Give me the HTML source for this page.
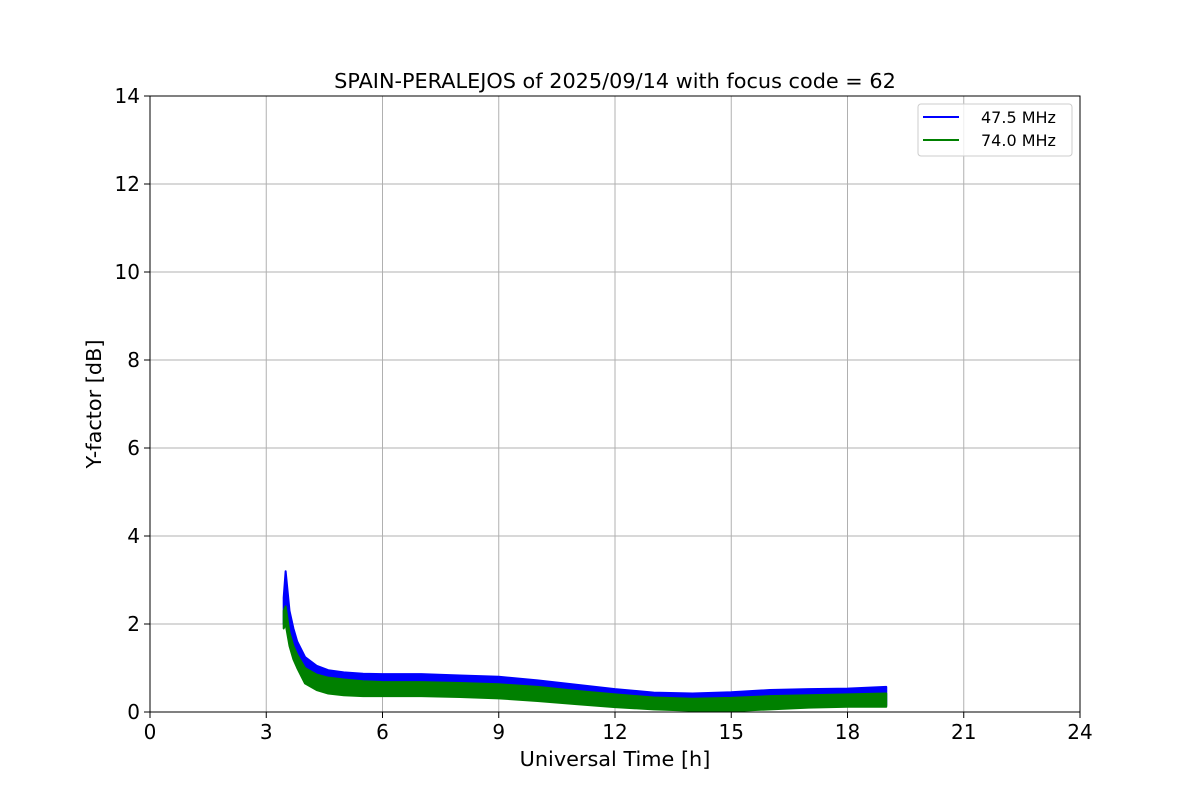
<!DOCTYPE html>
<html><head><meta charset="utf-8"><style>
body{margin:0;background:#fff;}
svg text{font-family:"DejaVu Sans","Liberation Sans",sans-serif;fill:#000;}
</style></head><body>
<svg id="chart" width="1200" height="800" viewBox="0 0 1200 800">
<rect width="1200" height="800" fill="#fff"/>
<g id="grid"></g>
<g id="series"></g>
<rect x="150" y="96" width="930" height="616" fill="none" stroke="#000" stroke-width="1"/>
<g id="ticks"></g>
<text x="615" y="88" font-size="20.8" text-anchor="middle">SPAIN-PERALEJOS of 2025/09/14 with focus code = 62</text>
<text x="615" y="766" font-size="20.8" text-anchor="middle">Universal Time [h]</text>
<text transform="translate(101,404) rotate(-90)" font-size="20.8" text-anchor="middle">Y-factor [dB]</text>
<g>
<rect x="918" y="104" width="154" height="52" rx="3" fill="#fff" fill-opacity="0.8" stroke="#ccc"/>
<g><line x1="923" y1="117" x2="959" y2="117" stroke="#0000ff" stroke-width="2"/><text x="981" y="123" font-size="16">47.5 MHz</text></g>
<g><line x1="923" y1="140" x2="959" y2="140" stroke="#008000" stroke-width="2"/><text x="981" y="146" font-size="16">74.0 MHz</text></g>
</g>
</svg>
<script>
const times = [3.45,3.5,3.6,3.7,3.8,4,4.3,4.6,5,5.5,6,7,8,9,10,11,12,13,14,15,16,17,18,19];
const blueUpper = [2.6,3.2,2.3,1.9,1.6,1.25,1.05,0.95,0.9,0.87,0.86,0.86,0.83,0.8,0.72,0.62,0.52,0.44,0.42,0.45,0.5,0.52,0.53,0.57];
const blueLower = [2.0,2.2,1.6,1.3,1.1,0.8,0.65,0.55,0.48,0.45,0.44,0.43,0.4,0.37,0.3,0.22,0.15,0.1,0.06,0.05,0.1,0.13,0.15,0.15];
const greenUpper = [2.3,2.4,1.8,1.5,1.3,1.0,0.85,0.78,0.74,0.7,0.68,0.68,0.66,0.63,0.57,0.48,0.4,0.33,0.3,0.32,0.36,0.38,0.4,0.42];
const greenLower = [1.9,2.0,1.5,1.2,1.0,0.65,0.5,0.42,0.38,0.36,0.36,0.36,0.34,0.31,0.25,0.18,0.11,0.06,0.03,0.02,0.06,0.1,0.12,0.12];
const xTicks = [0,3,6,9,12,15,18,21,24];
const yTicks = [0,2,4,6,8,10,12,14];
const NS='http://www.w3.org/2000/svg';
const xs = v => 150 + v/24*930;
const ys = v => 712 - v/14*616;
const grid=document.getElementById('grid'), ticks=document.getElementById('ticks'), series=document.getElementById('series');
function mk(tag,attrs,parent){const e=document.createElementNS(NS,tag);for(const k in attrs)e.setAttribute(k,attrs[k]);parent.appendChild(e);return e;}
xTicks.forEach(t=>{
  const g=mk('line',{x1:xs(t),x2:xs(t),y1:96,y2:712,stroke:'#b0b0b0','stroke-width':1},grid);
  
  
  mk('line',{x1:xs(t),x2:xs(t),y1:712,y2:718,stroke:'#000'},ticks);
  const l=mk('text',{x:xs(t),y:739,'font-size':20,'text-anchor':'middle'},ticks);
  l.textContent=t;
  
  
});
yTicks.forEach(t=>{
  const g=mk('line',{x1:150,x2:1080,y1:ys(t),y2:ys(t),stroke:'#b0b0b0','stroke-width':1},grid);
  
  
  mk('line',{x1:144,x2:150,y1:ys(t),y2:ys(t),stroke:'#000'},ticks);
  const l=mk('text',{x:140,y:ys(t)+7,'font-size':20,'text-anchor':'end'},ticks);
  l.textContent=t;
  
  
});
function band(up,lo,color,name){
  let pts=times.map((t,i)=>xs(t)+','+ys(up[i]));
  for(let i=times.length-1;i>=0;i--)pts.push(xs(times[i])+','+ys(lo[i]));
  const p=mk('polygon',{points:pts.join(' '),fill:color,stroke:color,'stroke-width':2,'stroke-linejoin':'round'},series);
  
  
}
band(blueUpper,blueLower,'#0000ff','series-47-5-mhz');
band(greenUpper,greenLower,'#008000','series-74-0-mhz');
</script>
</body></html>
